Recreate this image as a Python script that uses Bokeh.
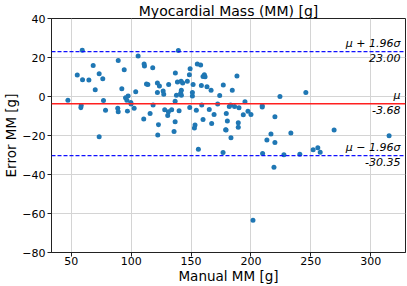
from bokeh.plotting import figure
from bokeh.models import Span, Label, FixedTicker, CustomJSTickFormatter, Range1d, ColumnDataSource
from bokeh.embed import file_html
from bokeh.resources import INLINE

manual_mm = [
    59.2, 105.8, 68.3, 89.2, 94.2, 55.0, 73.3, 59.4, 64.7, 76.3, 70.0, 92.2, 103.8, 97.5,
    95.3, 96.4, 47.2, 76.9, 99.7, 99.9, 58.3, 58.0, 102.5, 78.6, 88.8, 89.2, 96.9, 73.3,
    139.4, 110.8, 111.1, 118.0, 155.2, 158.0, 149.2, 136.9, 148.6, 161.1, 160.0, 161.7,
    112.8, 113.9, 121.9, 123.6, 131.3, 138.6, 141.7, 146.9, 143.0, 151.7, 158.6, 163.3,
    166.7, 176.9, 121.9, 126.7, 127.2, 141.9, 141.3, 141.9, 137.8, 151.1, 151.1, 173.9,
    136.7, 118.3, 158.9, 172.2, 148.9, 128.0, 133.8, 140.0, 131.1, 154.4, 165.2, 130.5,
    115.8, 169.2, 160.0, 110.5, 136.7, 167.2, 153.3, 152.8, 122.8, 178.9, 135.8, 122.2,
    156.1, 176.7,
    188.3, 184.4, 245.8, 224.2, 195.0, 181.9, 183.0, 186.3, 190.0, 209.4, 209.4, 197.5,
    193.6, 200.0, 179.4, 220.0, 180.3, 189.4, 189.4, 179.2, 233.3, 216.7, 183.3, 213.3,
    220.0, 209.7, 227.5, 240.8,
    269.4, 315.3, 251.9, 255.8, 257.8, 219.2, 201.7,
]
error_mm = [
    23.7, 20.8, 15.9, 18.5, 13.7, 11.0, 11.7, 8.6, 8.4, 9.1, 3.4, 4.0, 2.5, 0.3,
    -0.6, -1.9, -1.9, -2.1, -3.1, -3.9, -4.6, -5.8, -6.0, -7.0, -6.0, -7.8, -7.5, -20.6,
    23.6, 16.7, 15.6, 14.7, 16.7, 16.1, 14.2, 12.0, 11.2, 11.2, 10.3, 10.1,
    6.4, 6.1, 6.9, 5.4, 6.2, 7.4, 7.8, 7.8, 6.9, 6.1, 5.7, 5.0,
    3.2, 5.9, 2.0, 2.8, 1.2, 3.2, 1.7, 0.7, 0.7, 2.0, 0.3, 0.5,
    -2.4, -4.3, -4.3, -3.8, -5.6, -6.8, -6.8, -7.3, -7.8, -7.0, -6.7, -9.7,
    -8.7, -9.2, -11.8, -11.6, -12.9, -13.9, -14.6, -16.1, -14.5, -17.0, -17.9, -19.7,
    -27.0, -28.7,
    10.5, 3.2, 2.0, 0.0, -2.7, -5.1, -4.4, -5.1, -5.8, -4.8, -5.4, -7.5,
    -9.4, -9.2, -8.7, -10.4, -12.6, -13.4, -15.8, -17.2, -18.7, -19.2, -21.1, -22.3,
    -23.6, -29.2, -29.9, -29.6,
    -17.2, -20.1, -27.3, -26.3, -28.6, -36.3, -63.5,
]

x_ticks = [50, 100, 150, 200, 250, 300]
y_ticks = [-80, -60, -40, -20, 0, 20, 40]

mean_err = -3.68
upper_loa = 23.00
lower_loa = -30.35
mean_text = "-3.68"
upper_text = "23.00"
lower_text = "-30.35"

x_lo, x_hi = 33.5, 329.0
y_lo, y_hi = -80, 40

FONT = "DejaVu Sans"

p = figure(frame_width=354, frame_height=234, output_backend="svg", toolbar_location=None,
           title="Myocardial Mass (MM) [g]",
           x_range=Range1d(x_lo, x_hi), y_range=Range1d(y_lo, y_hi),
           min_border_left=47, min_border_right=6, min_border_top=17, min_border_bottom=33)

p.title.text_font = FONT
p.title.text_font_size = "14px"
p.title.text_font_style = "normal"
p.title.text_color = "black"
p.title.align = "center"
p.title.standoff = 0

p.background_fill_color = "white"
p.border_fill_color = "white"
p.outline_line_color = "#222222"
p.outline_line_width = 1

src = ColumnDataSource(dict(x=manual_mm, y=error_mm))
p.scatter(x="x", y="y", source=src, size=5, color="#1f77b4", line_width=0)

p.add_layout(Span(location=mean_err, dimension="width", line_color="#ff2020", line_width=1.6))
p.add_layout(Span(location=upper_loa, dimension="width", line_color="#1010ff",
                  line_dash="4 2", line_width=1.2))
p.add_layout(Span(location=lower_loa, dimension="width", line_color="#1010ff",
                  line_dash="4 2", line_width=1.2))

fmt = CustomJSTickFormatter(code="return String(tick).replace('-', '\u2212');")

for ax in (p.xaxis[0], p.yaxis[0]):
    ax.major_label_text_font = FONT
    ax.major_label_text_font_size = "11px"
    ax.major_label_text_color = "black"
    ax.major_tick_out = 4
    ax.major_tick_in = 0
    ax.minor_tick_line_color = None
    ax.major_tick_line_color = "#222222"
    ax.axis_line_color = "#222222"
    ax.formatter = fmt
    ax.axis_label_text_font = FONT
    ax.axis_label_text_font_size = "13.5px"
    ax.axis_label_text_font_style = "normal"
    ax.axis_label_text_color = "black"
    ax.axis_label_standoff = 0

p.xaxis.major_label_standoff = 0
p.yaxis.major_label_standoff = 2
p.xaxis.ticker = FixedTicker(ticks=x_ticks)
p.yaxis.ticker = FixedTicker(ticks=y_ticks)
p.xaxis.axis_label = "Manual MM [g]"
p.yaxis.axis_label = "Error MM [g]"

p.grid.grid_line_color = "#d4d4d4"
p.grid.grid_line_width = 1

# annotations
for loc, name, val in [(upper_loa, "\u03bc + 1.96\u03c3", upper_text),
                       (mean_err, "\u03bc", mean_text),
                       (lower_loa, "\u03bc \u2212 1.96\u03c3", lower_text)]:
    p.add_layout(Label(x=x_hi, y=loc, x_offset=-5, y_offset=2, text=name,
                       text_align="right", text_baseline="bottom", text_font=FONT,
                       text_font_size="11px", text_font_style="italic", text_color="black"))
    p.add_layout(Label(x=x_hi, y=loc, x_offset=-5, y_offset=-2, text=val,
                       text_align="right", text_baseline="top", text_font=FONT,
                       text_font_size="11px", text_font_style="italic", text_color="black"))

open("out.html", "w").write(file_html(p, INLINE))
